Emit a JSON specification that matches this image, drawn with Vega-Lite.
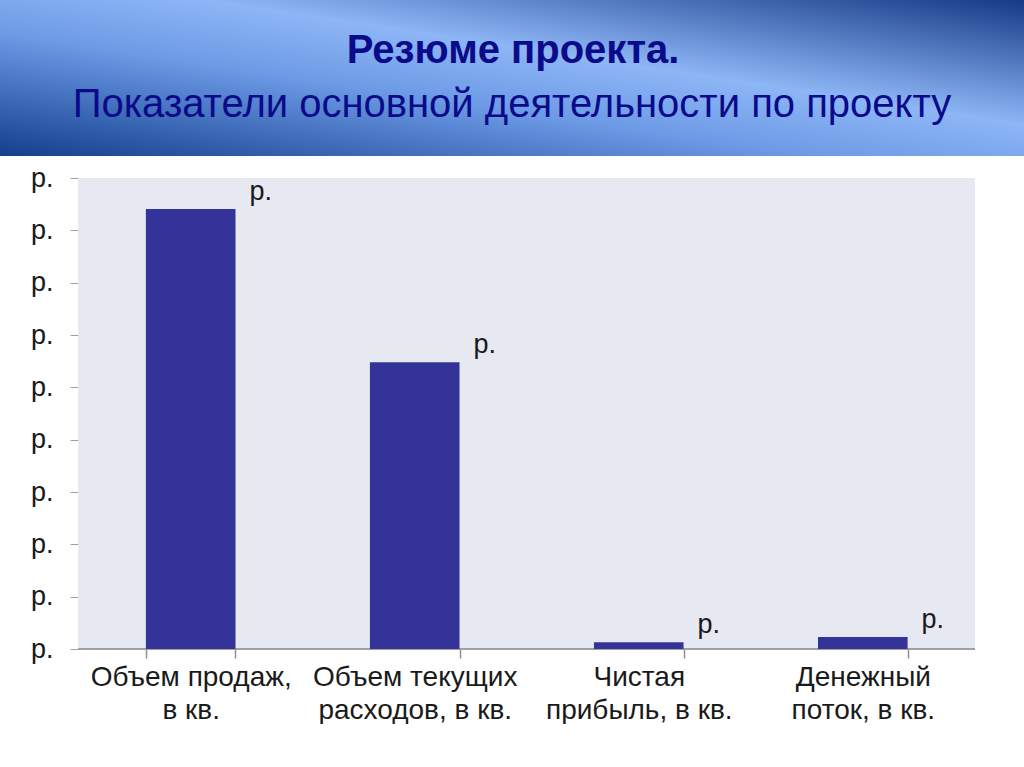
{
  "$schema": "https://vega.github.io/schema/vega-lite/v6.json",
  "padding": 0,
  "background": "white",
  "spacing": 8,
  "config": {
    "font": "Liberation Sans",
    "view": {"stroke": null}
  },
  "vconcat": [
    {
      "width": 1024,
      "height": 156,
      "data": {"values": [{"title": "Резюме проекта.", "subtitle": "Показатели основной деятельности по проекту"}]},
      "layer": [
        {
          "mark": {
            "type": "rect",
            "color": {
              "gradient": "linear",
              "x1": 1, "y1": 0, "x2": 0, "y2": 1,
              "stops": [
                {"offset": 0, "color": "#163a86"},
                {"offset": 0.4, "color": "#8db6f6"},
                {"offset": 0.6, "color": "#6e9be6"},
                {"offset": 1, "color": "#123f8e"}
              ]
            }
          },
          "encoding": {}
        },
        {
          "mark": {"type": "text", "font": "Liberation Sans", "fontSize": 40, "fontWeight": "bold", "color": "#0a0a8a", "baseline": "alphabetic", "align": "center", "dx": 1, "dy": -15},
          "encoding": {"text": {"field": "title"}}
        },
        {
          "mark": {"type": "text", "font": "Liberation Sans", "fontSize": 40, "color": "#0a0a8a", "baseline": "alphabetic", "align": "center", "dy": 39},
          "encoding": {"text": {"field": "subtitle"}}
        }
      ]
    },
    {
      "width": 975,
      "height": 471,
      "view": {"fill": null, "stroke": null},
      "data": {
        "values": [
          {"category": "Объем продаж,|в кв.", "value": 8.41, "label": "р."},
          {"category": "Объем текущих|расходов, в кв.", "value": 5.48, "label": "р."},
          {"category": "Чистая|прибыль, в кв.", "value": 0.13, "label": "р."},
          {"category": "Денежный|поток, в кв.", "value": 0.23, "label": "р."}
        ]
      },
      "encoding": {
        "x": {
          "field": "category",
          "type": "nominal",
          "sort": null,
          "scale": {
            "domain": ["Объем продаж,|в кв.", "Объем текущих|расходов, в кв.", "Чистая|прибыль, в кв.", "Денежный|поток, в кв."],
            "paddingInner": 0.6, "paddingOuter": 0.476, "align": 0.684
          },
          "axis": {
            "title": null,
            "domain": false,
            "ticks": true,
            "labelAngle": 0,
            "labelExpr": "split(datum.label, '|')",
            "labelFontSize": 28,
            "labelLineHeight": 33,
            "labelLimit": 0,
            "labelColor": "#1a1a1a",
            "labelPadding": 5,
            "labelBaseline": "top",
            "tickBand": "extent",
            "tickSize": 9,
            "tickColor": "#909090",
            "tickWidth": 1.5
          }
        },
        "y": {
          "field": "value",
          "type": "quantitative",
          "scale": {"domain": [0, 9], "nice": false},
          "axis": {
            "title": null,
            "offset": -79,
            "values": [0, 1, 2, 3, 4, 5, 6, 7, 8, 9],
            "labelExpr": "'р.'",
            "labelFontSize": 27,
            "labelColor": "#1a1a1a",
            "labelPadding": 17,
            "tickSize": 9,
            "tickColor": "#a0a0a0",
            "domainColor": "#a0a0a0",
            "domainWidth": 1.5,
            "grid": false
          }
        }
      },
      "layer": [
        {
          "mark": {"type": "rect", "color": "#e6e8f2"},
          "encoding": {
            "x": {"datum": "Объем продаж,|в кв.", "type": "nominal", "bandPosition": -0.75},
            "x2": {"datum": "Денежный|поток, в кв.", "bandPosition": 1.75},
            "y": {"datum": 9, "type": "quantitative"},
            "y2": {"datum": 0}
          }
        },
        {
          "mark": {"type": "rule", "color": "#a0a0a0", "strokeWidth": 1.5},
          "encoding": {
            "x": {"datum": "Объем продаж,|в кв.", "type": "nominal", "bandPosition": -0.75},
            "x2": {"datum": "Денежный|поток, в кв.", "bandPosition": 1.75},
            "y": {"datum": 0, "type": "quantitative"}
          }
        },
        {"mark": {"type": "bar", "color": "#333399"}},
        {
          "mark": {"type": "text", "fontSize": 27, "color": "#1a1a1a", "dx": 70, "dy": -17, "baseline": "middle"},
          "encoding": {"text": {"field": "label"}}
        }
      ]
    }
  ]
}
